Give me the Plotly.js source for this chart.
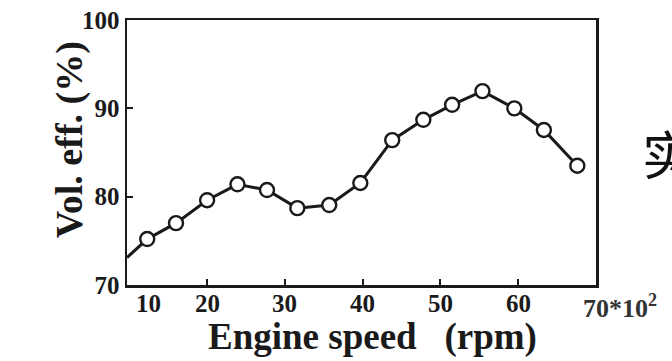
<!DOCTYPE html>
<html>
<head>
<meta charset="utf-8">
<script src="https://cdn.plot.ly/plotly-3.0.1.min.js"></script>
<style>html,body{margin:0;padding:0;background:#fff;overflow:hidden}#chart{width:672px;height:361px}</style>
</head>
<body>
<div id="chart"></div>
<script>
// Engine speed (x100 rpm) and volumetric efficiency (%)
var lineSpeed = [9.7, 12.3, 16.0, 20.0, 23.9, 27.7, 31.6, 35.7, 39.7, 43.8, 47.8, 51.5, 55.4, 59.5, 63.3, 67.6];
var lineEff = [73.1, 75.2, 77.0, 79.6, 81.4, 80.75, 78.7, 79.05, 81.55, 86.4, 88.7, 90.4, 91.95, 90.0, 87.55, 83.5];
var pointSpeed = [12.3, 16.0, 20.0, 23.9, 27.7, 31.6, 35.7, 39.7, 43.8, 47.8, 51.5, 55.4, 59.5, 63.3, 67.6];
var pointEff = [75.2, 77.0, 79.6, 81.4, 80.75, 78.7, 79.05, 81.55, 86.4, 88.7, 90.4, 91.95, 90.0, 87.55, 83.5];
var xTickVals = [20, 30, 40, 50, 60];
var xLabelPos = [12.5, 20, 30, 40, 50, 60];
var xLabelText = ['10', '20', '30', '40', '50', '60'];
var yTickVals = [70, 80, 90, 100];
var yTickText = ['70', '80', '90', '100'];

var serif = '"Liberation Serif", "Times New Roman", serif';
var ink = '#1a1a1a';

var lineTrace = {
  x: lineSpeed, y: lineEff, mode: 'lines', type: 'scatter',
  line: {color: ink, width: 3}, hoverinfo: 'none'
};
var pointTrace = {
  x: pointSpeed, y: pointEff, mode: 'markers', type: 'scatter',
  marker: {symbol: 'circle', size: 14, color: '#ffffff', opacity: 1,
    line: {color: ink, width: 2.4}},
  cliponaxis: false, hoverinfo: 'none'
};

var annotations = xLabelPos.map(function(v, i){
  return {x: v, y: 0, xref: 'x', yref: 'paper', yanchor: 'top', yshift: -3,
    text: '<b>' + xLabelText[i] + '</b>', showarrow: false,
    font: {family: serif, size: 25, color: ink}};
});
annotations.push({x: 70, y: 0, xref: 'x', yref: 'paper', xanchor: 'left', yanchor: 'top',
  xshift: -15, yshift: -3, text: '<b>70*10<sup>2</sup></b>', showarrow: false,
  font: {family: serif, size: 26, color: '#333'}});
annotations.push({x: 0.523, y: -0.196, xref: 'paper', yref: 'paper', yanchor: 'middle',
  text: '<b>Engine speed   (rpm)</b>', showarrow: false,
  font: {family: serif, size: 37, color: ink}});
annotations.push({x: -0.173, y: 0.548, xref: 'paper', yref: 'paper', textangle: -90,
  text: '<b>Vol. eff. (%)</b>', showarrow: false,
  font: {family: serif, size: 38, color: ink}});
annotations.push({x: 1.093, y: 0.50, xref: 'paper', yref: 'paper', xanchor: 'left', yanchor: 'middle',
  text: '实', showarrow: false,
  font: {family: '"Noto Sans CJK SC", sans-serif', size: 52, color: '#111'}});

var layout = {
  width: 672, height: 361,
  margin: {l: 127, r: 76, t: 20, b: 76},
  paper_bgcolor: '#ffffff', plot_bgcolor: '#ffffff',
  showlegend: false,
  xaxis: {
    range: [9.7, 70], tickvals: xTickVals, showticklabels: false,
    ticks: 'inside', ticklen: 6, tickwidth: 2, tickcolor: ink,
    showline: true, linecolor: ink, linewidth: 2.5, mirror: true,
    showgrid: false, zeroline: false
  },
  yaxis: {
    range: [70, 100], tickvals: yTickVals, ticktext: yTickText.map(function(t){return '<b>'+t+'</b>';}),
    ticks: 'inside', ticklen: 6, tickwidth: 2, tickcolor: ink,
    tickfont: {family: serif, size: 25, color: ink},
    showline: true, linecolor: ink, linewidth: 2.5, mirror: true,
    showgrid: false, zeroline: false
  },
  annotations: annotations
};

Plotly.newPlot('chart', [lineTrace, pointTrace], layout, {staticPlot: true, displayModeBar: false});
</script>
</body>
</html>
